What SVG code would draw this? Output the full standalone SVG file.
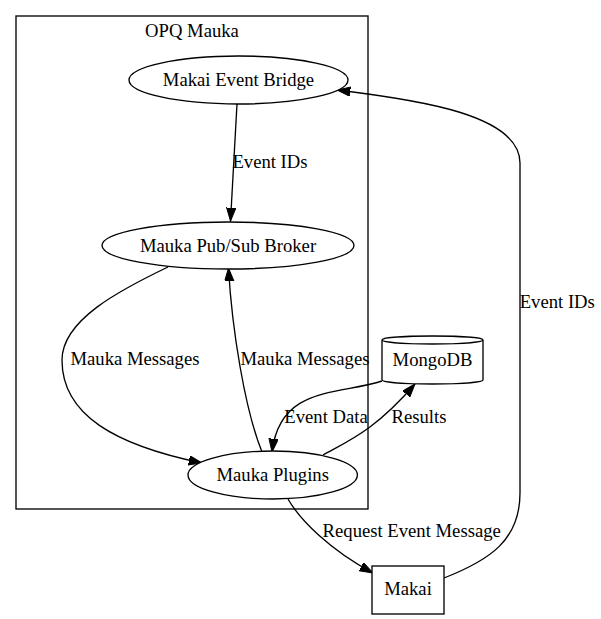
<svg xmlns="http://www.w3.org/2000/svg" width="601" height="619" viewBox="0 0 601 619">
<style>
text{font-family:"Liberation Serif","Times New Roman",serif;font-size:18.67px;fill:#000;text-anchor:middle}
.shape{fill:#fff;stroke:#000;stroke-width:1.33}
.edge{fill:none;stroke:#000;stroke-width:1.33;marker-end:url(#arrow)}
</style>
<defs>
<marker id="arrow" markerUnits="userSpaceOnUse" markerWidth="14" markerHeight="10" viewBox="0 0 14 10" refX="13.3" refY="4.67" orient="auto">
<path d="M0,0 L13.3,4.67 L0,9.33 Z" fill="#000" stroke="#000" stroke-width="1"/>
</marker>
</defs>
<rect width="601" height="619" fill="#fff"/>
<g id="cluster_opq_mauka">
<rect x="16" y="16" width="352" height="493" fill="none" stroke="#000" stroke-width="1.33"/>
<text x="192" y="37">OPQ Mauka</text>
</g>
<g id="connectors">
<path class="edge" d="M237,104 L230.5,221"/>
<path class="edge" d="M168,267 C120,290 62,320 62,360 C62,415 115,445 202,463"/>
<path class="edge" d="M262,452 C245,410 232,330 228.5,268"/>
<path class="edge" d="M382,381 C340,395 280,385 272,452"/>
<path class="edge" d="M323,455 C350,440 375,430 415,384"/>
<path class="edge" d="M288,499 C300,520 330,550 373,573"/>
<path class="edge" d="M444,578 C490,560 520,540 520,493 L520,163 C520,115 420,100 337,90"/>
<text x="270" y="168">Event IDs</text>
<text x="135" y="365">Mauka Messages</text>
<text x="305" y="365">Mauka Messages</text>
<text x="326" y="423">Event Data</text>
<text x="419" y="423">Results</text>
<text x="411.7" y="537">Request Event Message</text>
<text x="557.3" y="308">Event IDs</text>
</g>
<g id="makai_event_bridge">
<ellipse class="shape" cx="238.5" cy="80" rx="109.5" ry="24"/>
<text x="238.5" y="86">Makai Event Bridge</text>
</g>
<g id="mauka_pubsub_broker">
<ellipse class="shape" cx="228" cy="245.5" rx="126" ry="23.5"/>
<text x="228" y="252">Mauka Pub/Sub Broker</text>
</g>
<g id="mauka_plugins">
<ellipse class="shape" cx="272.7" cy="475" rx="84.7" ry="24"/>
<text x="272.7" y="481">Mauka Plugins</text>
</g>
<g id="mongodb">
<path class="shape" d="M382,340 A50.5,4 0 0 1 483,340 L483,380 A50.5,4 0 0 1 382,380 Z M382,340 A50.5,4 0 0 0 483,340"/>
<text x="432.5" y="366">MongoDB</text>
</g>
<g id="makai">
<rect class="shape" x="372" y="566" width="72" height="48"/>
<text x="408" y="595">Makai</text>
</g>
</svg>
